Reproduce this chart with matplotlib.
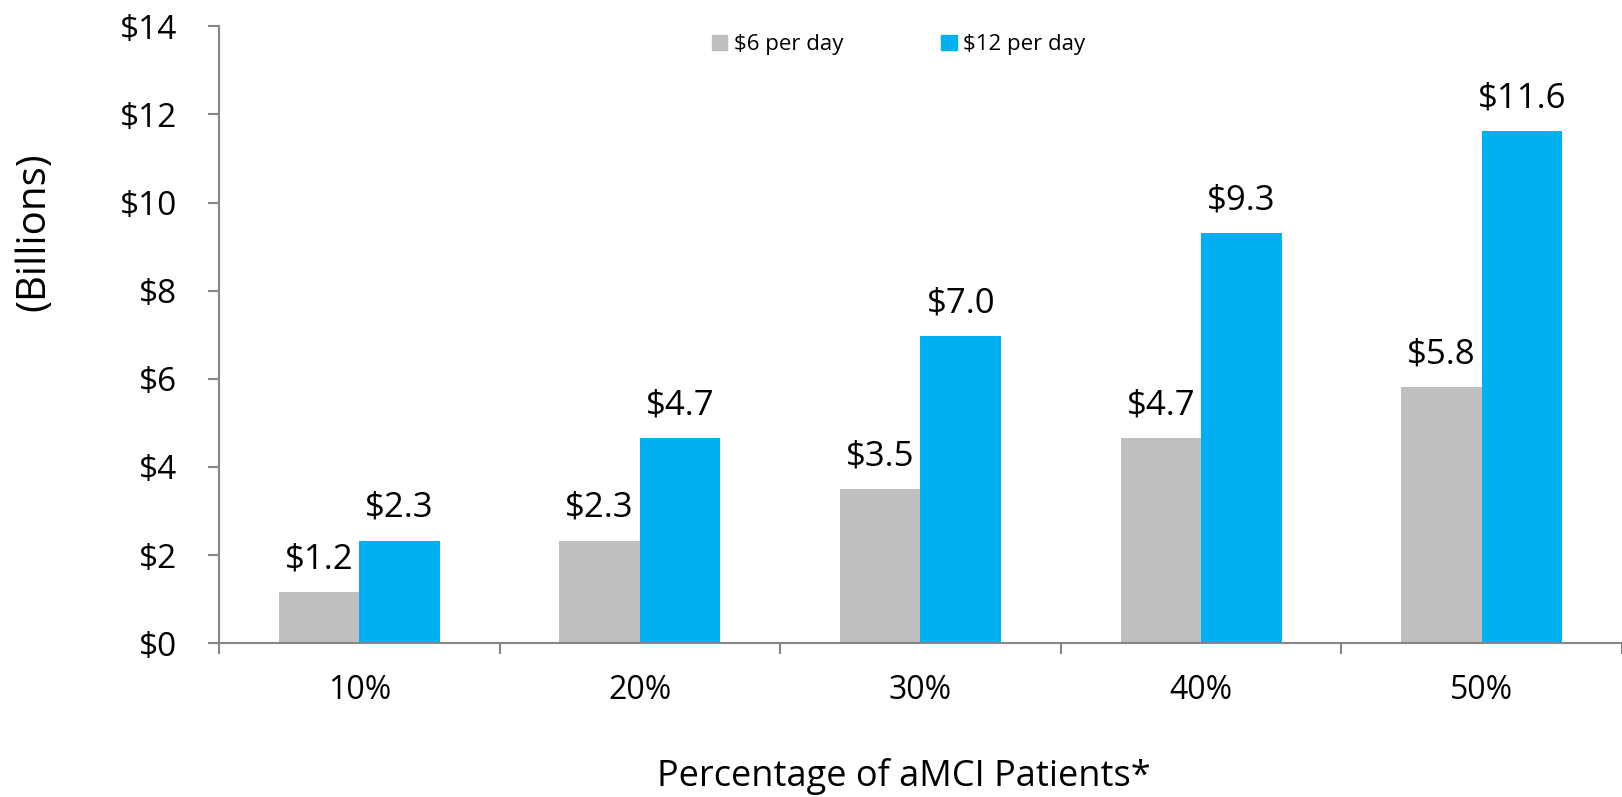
import numpy as np
import matplotlib
matplotlib.use('Agg')
import matplotlib.pyplot as plt
from matplotlib.patches import Patch

plt.rcParams['font.family'] = ['Open Sans', 'DejaVu Sans']

categories = ['10%', '20%', '30%', '40%', '50%']
low_dose = [1.16, 2.33, 3.49, 4.65, 5.81]
high_dose = [2.33, 4.65, 6.98, 9.30, 11.63]
low_labels = ['$1.2', '$2.3', '$3.5', '$4.7', '$5.8']
high_labels = ['$2.3', '$4.7', '$7.0', '$9.3', '$11.6']
series_names = ['$6 per day', '$12 per day']
yticks = [0, 2, 4, 6, 8, 10, 12, 14]

GREY = '#bfbfbf'
BLUE = '#00b0f0'
AXIS = '#868686'

fig = plt.figure(figsize=(16.22, 7.97), dpi=100)
ax = fig.add_axes([0.135, 0.193, 0.865, 0.774])

x = np.arange(len(categories))
w = 0.287
ax.bar(x - w / 2, low_dose, width=w, color=GREY)
ax.bar(x + w / 2, high_dose, width=w, color=BLUE)

# data labels
for xi, v, lab in zip(x - w / 2, low_dose, low_labels):
    ax.annotate(lab, xy=(xi, v), xytext=(0, 17), textcoords='offset points',
                ha='center', va='baseline', fontsize=25, color='black')
for xi, v, lab in zip(x + w / 2, high_dose, high_labels):
    ax.annotate(lab, xy=(xi, v), xytext=(0, 17), textcoords='offset points',
                ha='center', va='baseline', fontsize=25, color='black')

ax.set_xlim(-0.5, len(categories) - 0.5)
ax.set_ylim(0, 14)
ax.set_yticks(yticks)
ax.set_yticklabels([f'${t}' for t in yticks], fontsize=24)
ax.set_xticks(x)
ax.set_xticklabels(categories, fontsize=23)
ax.set_xticks(np.arange(-0.5, len(categories)), minor=True)
ax.tick_params(axis='x', which='major', length=0, pad=22)
ax.tick_params(axis='x', which='minor', length=8, width=1.5, color=AXIS, direction='out')
ax.tick_params(axis='y', length=8, width=1.5, color=AXIS, pad=22)

for s in ['top', 'right']:
    ax.spines[s].set_visible(False)
for s in ['left', 'bottom']:
    ax.spines[s].set_color(AXIS)
    ax.spines[s].set_linewidth(1.5)

fig.text(0.557, 0.026, 'Percentage of aMCI Patients*', ha='center', va='center', fontsize=26)
fig.text(0.021, 0.709, '(Billions)', ha='center', va='center', rotation=90, fontsize=29)

handles = [Patch(color=GREY), Patch(color=BLUE)]
fig.legend(handles, series_names, loc='center', bbox_to_anchor=(0.554, 0.944),
           ncol=2, frameon=False, fontsize=16, handlelength=0.7, handleheight=0.7,
           handletextpad=0.3, columnspacing=4.4)

fig.savefig('out.png', dpi=100)
